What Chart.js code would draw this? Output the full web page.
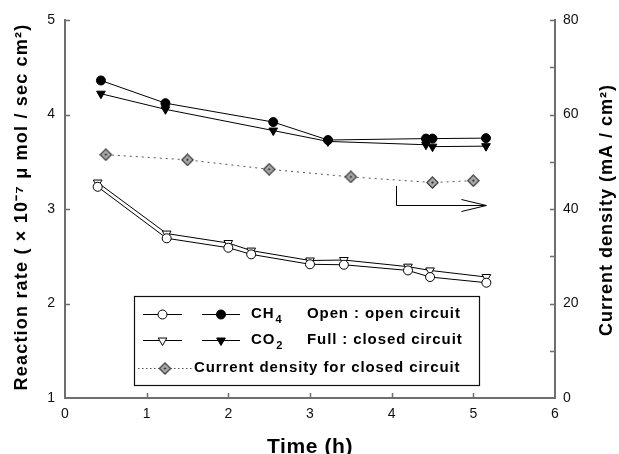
<!DOCTYPE html>
<html>
<head>
<meta charset="utf-8">
<script src="https://cdn.jsdelivr.net/npm/chart.js@4.4.1/dist/chart.umd.min.js"></script>
<style>
  html, body { margin: 0; padding: 0; background: #ffffff; }
  canvas { display: block; }
</style>
</head>
<body>
<canvas id="c" width="619" height="454"></canvas>
<script>
// ---- data ----
const timeOpen   = [0.40, 1.245, 2.00, 2.28, 3.00, 3.415, 4.20, 4.47, 5.16];
const ch4Open    = [3.235, 2.69, 2.59, 2.52, 2.415, 2.41, 2.35, 2.28, 2.22];
const co2Open    = [3.28, 2.74, 2.64, 2.56, 2.455, 2.46, 2.39, 2.35, 2.28];
const timeClosed = [0.44, 1.23, 2.55, 3.22, 4.42, 4.50, 5.155];
const ch4Closed  = [4.36, 4.12, 3.92, 3.73, 3.745, 3.745, 3.75];
const co2Closed  = [4.22, 4.055, 3.83, 3.715, 3.68, 3.66, 3.665];
const timeCurrent    = [0.5, 1.5, 2.5, 3.5, 4.5, 5.0];
const currentDensity = [51.5, 50.4, 48.4, 46.8, 45.6, 46.0];
// arrow annotation (time, current density)
const arrowX = [4.05, 5.16];
const arrowY = [44.9, 40.85];

const xTitle = 'Time (h)';
const yTitle = 'Reaction rate ( \u00d7 10\u207b\u2077 \u03bc mol / sec cm\u00b2)';
const y1Title = 'Current density (mA / cm\u00b2)';
const legendRows = [
  { a: 'CH', sub: '4', b: 'Open : open circuit' },
  { a: 'CO', sub: '2', b: 'Full : closed circuit' },
  { c: 'Current density for closed circuit' }
];

const FONT = '"Liberation Sans", Arial, Helvetica, sans-serif';
const AXIS = '#6e6e6e';

// diamond marker image
function diamondImg() {
  const cv = document.createElement('canvas');
  cv.width = 13; cv.height = 13;
  const g = cv.getContext('2d');
  g.beginPath();
  g.moveTo(6.5, 0.8); g.lineTo(12.2, 6.5); g.lineTo(6.5, 12.2); g.lineTo(0.8, 6.5); g.closePath();
  g.fillStyle = '#a9a9a9'; g.fill();
  g.lineWidth = 1.1; g.strokeStyle = '#333'; g.stroke();
  g.fillStyle = '#222';
  g.beginPath(); g.arc(6.5, 6.5, 1.1, 0, Math.PI * 2); g.fill();
  return cv;
}
const DIAMOND = diamondImg();

const pts = (xs, ys) => xs.map((x, i) => ({ x: x, y: ys[i] }));

const base = { showLine: true, borderColor: '#000', borderWidth: 1, pointBorderColor: '#000', pointBorderWidth: 1, tension: 0 };

const datasets = [
  Object.assign({}, base, { label: 'CH4 open', data: pts(timeOpen, ch4Open), yAxisID: 'y',
    pointStyle: 'circle', pointRadius: 4.5, pointBackgroundColor: '#fff' }),
  Object.assign({}, base, { label: 'CO2 open', data: pts(timeOpen, co2Open), yAxisID: 'y',
    pointStyle: 'triangle', pointRotation: 180, pointRadius: 5, pointBackgroundColor: '#fff' }),
  Object.assign({}, base, { label: 'CO2 closed', data: pts(timeClosed, co2Closed), yAxisID: 'y',
    pointStyle: 'triangle', pointRotation: 180, pointRadius: 5, pointBackgroundColor: '#000' }),
  Object.assign({}, base, { label: 'CH4 closed', data: pts(timeClosed, ch4Closed), yAxisID: 'y',
    pointStyle: 'circle', pointRadius: 4.5, pointBackgroundColor: '#000' }),
  Object.assign({}, base, { label: 'Current density', data: pts(timeCurrent, currentDensity), yAxisID: 'y1',
    borderColor: '#555', borderDash: [2, 4], pointStyle: DIAMOND, pointRadius: 6 })
];

function spacedText(ctx, txt, x, y, spacing) {
  ctx.letterSpacing = spacing + 'px';
  ctx.fillText(txt, x, y);
  ctx.letterSpacing = '0px';
}

const decor = {
  id: 'decor',
  beforeDatasetsDraw(chart) {
    const ctx = chart.ctx;
    const { x, y, y1 } = chart.scales;
    ctx.save();
    ctx.strokeStyle = AXIS; ctx.lineWidth = 1.5;
    const L = 5;
    ctx.beginPath();
    x.ticks.forEach(t => {
      if (t.value <= 0 || t.value >= 6) return;
      const px = Math.round(x.getPixelForValue(t.value)) + 0.5;
      ctx.moveTo(px, x.top); ctx.lineTo(px, x.top - L);
    });
    y.ticks.forEach(t => {
      if (t.value <= 1) return;
      const py = Math.round(y.getPixelForValue(t.value)) + 0.5;
      ctx.moveTo(y.right, py); ctx.lineTo(y.right + L, py);
    });
    y1.ticks.forEach(t => {
      if (t.value <= 0) return;
      const py = Math.round(y1.getPixelForValue(t.value)) + 0.5;
      ctx.moveTo(y1.left, py); ctx.lineTo(y1.left - L, py);
    });
    ctx.stroke();

    // arrow annotation
    ctx.strokeStyle = '#000'; ctx.lineWidth = 1;
    const ax0 = x.getPixelForValue(arrowX[0]), ax1 = x.getPixelForValue(arrowX[1]);
    const ay0 = y1.getPixelForValue(arrowY[0]), ay1 = y1.getPixelForValue(arrowY[1]);
    ctx.beginPath();
    ctx.moveTo(Math.round(ax0) + 0.5, ay0); ctx.lineTo(Math.round(ax0) + 0.5, Math.round(ay1) + 0.5);
    ctx.lineTo(ax1, Math.round(ay1) + 0.5);
    ctx.moveTo(ax1 - 25, Math.round(ay1) + 0.5 - 6); ctx.lineTo(ax1, Math.round(ay1) + 0.5);
    ctx.lineTo(ax1 - 25, Math.round(ay1) + 0.5 + 6);
    ctx.stroke();
    ctx.restore();
  },
  afterDraw(chart) {
    const ctx = chart.ctx;
    const ca = chart.chartArea;
    ctx.save();
    // ---- legend box ----
    const bx = ca.left + 69, by = ca.top + 276, bw = 345, bh = 89;
    ctx.fillStyle = '#fff';
    ctx.fillRect(bx, by, bw, bh);
    ctx.strokeStyle = '#111'; ctx.lineWidth = 1.2;
    ctx.strokeRect(bx + 0.5, by + 0.5, bw, bh);

    const rowsY = [by + 18, by + 44, by + 72];
    const drawP = Chart.helpers.drawPoint;
    function sample(x0, x1, yy, style, fill, dash, col) {
      ctx.save();
      ctx.strokeStyle = col || '#000'; ctx.lineWidth = 1;
      ctx.setLineDash(dash || []);
      ctx.beginPath(); ctx.moveTo(x0, yy + 0.5); ctx.lineTo(x1, yy + 0.5); ctx.stroke();
      ctx.setLineDash([]);
      ctx.fillStyle = fill; ctx.strokeStyle = '#000';
      drawP(ctx, { pointStyle: style.ps, radius: style.r, rotation: style.rot || 0, borderWidth: 1 }, (x0 + x1) / 2, yy + 0.5);
      ctx.restore();
    }
    const circ = { ps: 'circle', r: 4.5 };
    const tri = { ps: 'triangle', r: 5, rot: 180 };
    sample(bx + 9, bx + 48, rowsY[0], circ, '#fff');
    sample(bx + 68, bx + 106, rowsY[0], circ, '#000');
    sample(bx + 9, bx + 48, rowsY[1], tri, '#fff');
    sample(bx + 68, bx + 106, rowsY[1], tri, '#000');
    sample(bx + 4, bx + 58, rowsY[2], { ps: DIAMOND, r: 6 }, '#888', [1.5, 2.5], '#555');

    ctx.fillStyle = '#000';
    ctx.textBaseline = 'middle';
    ctx.textAlign = 'left';
    const LF = 'bold 15px ' + FONT, LS = 0.9;
    ctx.font = LF;
    for (let i = 0; i < 2; i++) {
      const r = legendRows[i];
      spacedText(ctx, r.a, bx + 117, rowsY[i], LS);
      ctx.letterSpacing = LS + 'px';
      const w = ctx.measureText(r.a).width;
      ctx.letterSpacing = '0px';
      ctx.font = 'bold 11px ' + FONT;
      ctx.fillText(r.sub, bx + 117 + w + 1, rowsY[i] + 6);
      ctx.font = LF;
      spacedText(ctx, r.b, bx + 173, rowsY[i], LS);
    }
    spacedText(ctx, legendRows[2].c, bx + 60, rowsY[2], LS);

    // ---- axis titles ----
    ctx.textAlign = 'center';
    ctx.font = 'bold 21px ' + FONT;
    spacedText(ctx, xTitle, (ca.left + ca.right) / 2, 447, 0.6);

    ctx.font = 'bold 18px ' + FONT;
    ctx.save();
    ctx.translate(22, 207);
    ctx.rotate(-Math.PI / 2);
    spacedText(ctx, yTitle, 0, 0, 1.2);
    ctx.restore();

    ctx.save();
    ctx.translate(607, 210);
    ctx.rotate(-Math.PI / 2);
    spacedText(ctx, y1Title, 0, 0, 1.0);
    ctx.restore();

    ctx.restore();
  }
};

const tickFont = { family: FONT, size: 14 };

new Chart(document.getElementById('c'), {
  type: 'scatter',
  data: { datasets: datasets },
  plugins: [decor],
  options: {
    responsive: false,
    devicePixelRatio: 1,
    animation: false,
    layout: { padding: { top: 20, left: 0, right: 0, bottom: 0 } },
    plugins: { legend: { display: false }, tooltip: { enabled: false } },
    scales: {
      x: {
        type: 'linear', min: 0, max: 6,
        ticks: { stepSize: 1, autoSkip: false, font: tickFont, color: '#111', padding: 8, maxRotation: 0 },
        grid: { display: false, drawTicks: false },
        border: { display: true, color: AXIS, width: 2 },
        afterFit: s => { s.height = 56; }
      },
      y: {
        position: 'left', min: 1, max: 5,
        ticks: { stepSize: 1, autoSkip: false, font: tickFont, color: '#111', padding: 10 },
        grid: { display: false, drawTicks: false },
        border: { display: true, color: AXIS, width: 2 },
        afterFit: s => { s.width = 65; }
      },
      y1: {
        position: 'right', min: 0, max: 80,
        ticks: { stepSize: 10, autoSkip: false, font: tickFont, color: '#111', padding: 8,
          callback: v => (v % 20 === 0 ? String(v) : '') },
        grid: { display: false, drawTicks: false },
        border: { display: true, color: AXIS, width: 2 },
        afterFit: s => { s.width = 64; }
      }
    }
  }
});
</script>
</body>
</html>
